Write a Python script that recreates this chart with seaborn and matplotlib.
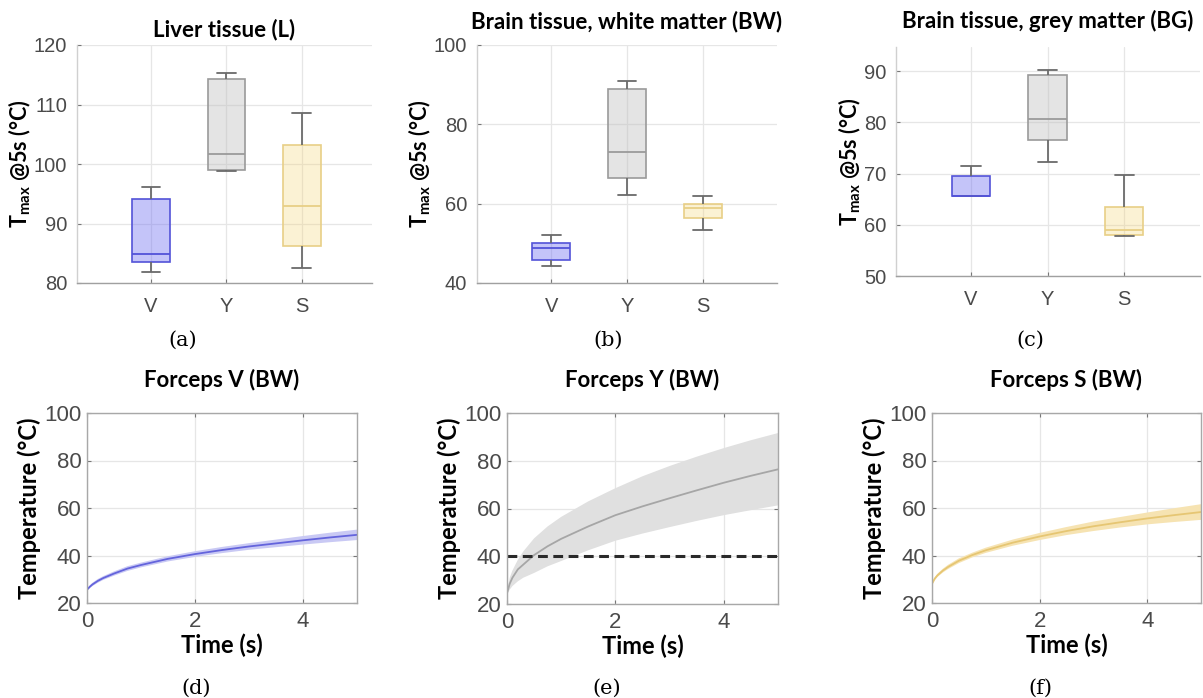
import numpy as np
import pandas as pd
import matplotlib
matplotlib.use("Agg")
import matplotlib.pyplot as plt
import seaborn as sns

# ---------------- data ----------------
forceps = ["V", "Y", "S"]

# five-number summaries: [min, Q1, median, Q3, max]
liver_V = [81.8, 83.6, 84.9, 94.2, 96.1]
liver_Y = [98.9, 99.0, 101.7, 114.3, 115.3]
liver_S = [82.5, 86.3, 93.0, 103.2, 108.6]

bw_V = [44.2, 45.8, 48.8, 50.2, 52.1]
bw_Y = [62.1, 66.4, 73.1, 89.0, 90.9]
bw_S = [53.3, 56.3, 59.0, 59.9, 61.9]

bg_V = [65.6, 65.6, 65.7, 69.6, 71.5]
bg_Y = [72.2, 76.6, 80.6, 89.3, 90.3]
bg_S = [57.9, 58.0, 59.0, 63.5, 69.8]

# temperature curves (BW): time, mean, lower and upper band limit
time_s = [0, 0.05, 0.1, 0.2, 0.3, 0.5, 0.75, 1, 1.5, 2, 2.5, 3, 3.5, 4, 4.5, 5]

V_mean = [25.6, 26.8, 27.8, 29.3, 30.5, 32.4, 34.5, 36.0, 38.6, 40.6, 42.3, 43.8, 45.1, 46.4, 47.6, 48.7]
V_low = [25.1, 26.2, 27.1, 28.5, 29.7, 31.5, 33.5, 35.0, 37.5, 39.4, 41.0, 42.4, 43.5, 44.6, 45.6, 46.5]
V_high = [26.1, 27.4, 28.5, 30.1, 31.3, 33.3, 35.5, 37.0, 39.7, 41.8, 43.6, 45.2, 46.7, 48.2, 49.6, 50.9]

Y_mean = [24.5, 28.5, 31.0, 34.5, 36.5, 40.5, 44.2, 47.3, 52.5, 57.2, 60.9, 64.3, 67.6, 70.8, 73.7, 76.4]
Y_low = [24.0, 26.0, 27.5, 29.5, 31.0, 33.0, 35.8, 38.0, 42.5, 46.5, 49.5, 52.2, 54.8, 57.2, 59.3, 61.3]
Y_high = [25.0, 31.0, 34.0, 38.5, 42.0, 47.5, 52.5, 56.5, 63.0, 68.5, 73.5, 77.8, 81.7, 85.3, 88.6, 91.6]

S_mean = [28.1, 30.2, 31.6, 33.6, 35.2, 37.8, 40.2, 42.2, 45.4, 48.0, 50.3, 52.3, 54.0, 55.6, 57.0, 58.3]
S_low = [27.6, 29.6, 30.9, 32.8, 34.3, 36.8, 39.2, 41.1, 44.1, 46.5, 48.6, 50.3, 51.8, 53.1, 54.1, 55.0]
S_high = [28.6, 30.8, 32.3, 34.4, 36.1, 38.8, 41.2, 43.3, 46.7, 49.5, 52.0, 54.3, 56.2, 58.1, 59.9, 61.6]

threshold = 40

# ---------------- style ----------------
fill_cols = {"V": (0.45, 0.45, 0.95, 0.42), "Y": (0.75, 0.75, 0.75, 0.42), "S": (0.96, 0.83, 0.45, 0.30)}
edge_cols = {"V": "#5353d8", "Y": "#9a9a9a", "S": "#e8cf86"}
line_cols = {"V": "#6464dc", "Y": "#a6a6a6", "S": "#e6c673"}
band_cols = {"V": "#c9c9f4", "Y": "#e0e0e0", "S": "#f6e3b2"}

sns.set_theme(style="white")
plt.rcParams["font.family"] = ["Liberation Sans", "DejaVu Sans"]
plt.rcParams["mathtext.fontset"] = "custom"
plt.rcParams["mathtext.bf"] = "Lato:bold"
plt.rcParams["mathtext.rm"] = "Lato"
plt.rcParams["mathtext.it"] = "Lato:italic"

W, H = 1203, 698
fig = plt.figure(figsize=(W / 100, H / 100), dpi=100)
fig.patch.set_facecolor("white")


def px_axes(l, t, r, b):
    return fig.add_axes([l / W, 1 - b / H, (r - l) / W, (b - t) / H])


LBL = dict(fontfamily="Lato", fontweight="bold", color="black")


def box_panel(ax, groups, title, ylim, yticks, xlim, title_pad):
    rows = []
    for f, vals in zip(forceps, groups):
        for v in vals:
            rows.append({"Forceps": f, "Tmax": v})
    df = pd.DataFrame(rows)
    for f in forceps:
        sub = df[df["Forceps"] == f]
        sns.boxplot(data=sub, x="Forceps", y="Tmax", order=forceps, ax=ax,
                    width=0.5, saturation=1, color=edge_cols[f],
                    linecolor=edge_cols[f], linewidth=1.2, showfliers=False,
                    boxprops={"facecolor": fill_cols[f], "edgecolor": edge_cols[f]},
                    medianprops={"color": edge_cols[f], "linewidth": 1.3},
                    whiskerprops={"color": "#6a6a6a", "linewidth": 1.3},
                    capprops={"color": "#6a6a6a", "linewidth": 1.3})
    ax.set_xlim(*xlim)
    ax.set_ylim(*ylim)
    ax.set_yticks(yticks)
    ax.set_xlabel("")
    ax.set_ylabel(r"$\mathbf{T_{max}}$ @5s (°C)", fontsize=15.5, labelpad=1, **LBL)
    ax.set_title(title, fontsize=16, pad=title_pad, **LBL)
    ax.grid(True, color="#e6e6e6", linewidth=0.9)
    ax.set_axisbelow(True)
    for s in ["top", "right"]:
        ax.spines[s].set_visible(False)
    ax.spines["left"].set_color("#d0d0d0")
    ax.spines["bottom"].set_color("#a0a0a0")
    ax.spines["left"].set_linewidth(1.0)
    ax.spines["bottom"].set_linewidth(1.0)
    ax.tick_params(axis="both", direction="in", length=3, width=0.8, color="#777777",
                   labelcolor="#4a4a4a", labelsize=14.5, left=True, bottom=True)
    ax.tick_params(axis="x", pad=10)
    ax.tick_params(axis="y", pad=7)


def line_panel(ax, mean, low, high, key, title, dashed=False):
    rows = []
    for t, lo, m, hi in zip(time_s, low, mean, high):
        for v in (lo, m, hi):
            rows.append({"Time": t, "Temp": v})
    df = pd.DataFrame(rows)
    sns.lineplot(data=df, x="Time", y="Temp", ax=ax, estimator="median",
                 errorbar=("pi", 100), color=line_cols[key], linewidth=1.3)
    for c in ax.collections:
        c.set_facecolor(band_cols[key])
        c.set_alpha(1)
        c.set_edgecolor("none")
    if dashed:
        ax.axhline(threshold, color="#2a2a2a", linestyle=(0, (3.2, 1.8)), linewidth=2.2)
    ax.set_xlim(0, 5)
    ax.set_ylim(20, 100)
    ax.set_xticks([0, 2, 4])
    ax.set_yticks([20, 40, 60, 80, 100])
    ax.set_xlabel("Time (s)", fontsize=17, labelpad=1, **LBL)
    ax.set_ylabel("Temperature (°C)", fontsize=17, labelpad=2, **LBL)
    ax.set_title(title, fontsize=16, pad=19, **LBL)
    ax.grid(True, color="#e6e6e6", linewidth=0.9)
    ax.set_axisbelow(True)
    for s in ax.spines.values():
        s.set_visible(True)
        s.set_color("#a8a8a8")
        s.set_linewidth(1.0)
    ax.tick_params(axis="both", direction="in", length=3, width=0.8, color="#777777",
                   labelcolor="#4a4a4a", labelsize=16, left=True, bottom=True,
                   right=True, top=True)
    ax.tick_params(axis="x", pad=6)
    ax.tick_params(axis="y", pad=4)


ax_a = px_axes(77, 45, 372, 283)
box_panel(ax_a, [liver_V, liver_Y, liver_S], "Liver tissue (L)", (80, 120),
          [80, 90, 100, 110, 120], (-0.98, 2.93), 6)
ax_b = px_axes(477, 45, 777, 283)
box_panel(ax_b, [bw_V, bw_Y, bw_S], "Brain tissue, white matter (BW)", (40, 100),
          [40, 60, 80, 100], (-0.98, 2.98), 12)
ax_c = px_axes(896, 47, 1200, 276)
box_panel(ax_c, [bg_V, bg_Y, bg_S], "Brain tissue, grey matter (BG)", (50, 94.7),
          [50, 60, 70, 80, 90], (-0.98, 2.99), 14)

ax_d = px_axes(87, 413, 357, 603)
line_panel(ax_d, V_mean, V_low, V_high, "V", "Forceps V (BW)")
ax_e = px_axes(507, 413, 778, 604)
line_panel(ax_e, Y_mean, Y_low, Y_high, "Y", "Forceps Y (BW)", dashed=True)
ax_f = px_axes(932, 413, 1201, 603)
line_panel(ax_f, S_mean, S_low, S_high, "S", "Forceps S (BW)")

panel_tags = [("a", 183, 340), ("b", 608, 340), ("c", 1030, 340),
              ("d", 196, 688), ("e", 607, 688), ("f", 1040, 688)]
for tag, x, y in panel_tags:
    fig.text(x / W, 1 - y / H, "(" + tag + ")", ha="center", va="center",
             fontsize=15, fontfamily="DejaVu Serif", color="black")

fig.savefig("out.png", dpi=100)
